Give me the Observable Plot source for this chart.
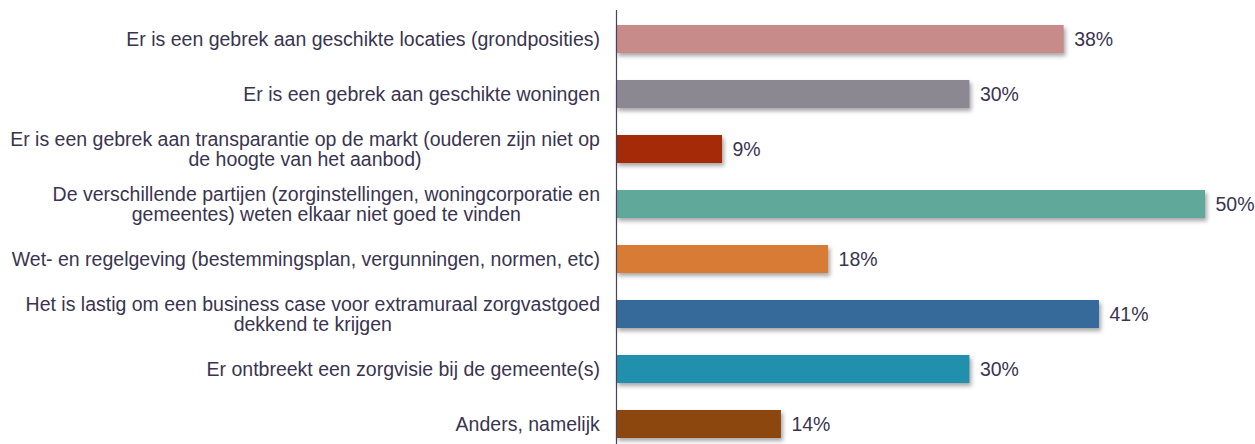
<!DOCTYPE html>
<html>
<head>
<meta charset="utf-8">
<script src="https://cdn.jsdelivr.net/npm/d3@7"></script>
<script src="https://cdn.jsdelivr.net/npm/@observablehq/plot@0.6"></script>
<style>
  html, body { margin: 0; padding: 0; background: #ffffff; }
  #chart { width: 1255px; height: 444px; }
</style>
</head>
<body>
<div id="chart"></div>
<script>
const categories = [
  "Er is een gebrek aan geschikte locaties (grondposities)",
  "Er is een gebrek aan geschikte woningen",
  "Er is een gebrek aan transparantie op de markt (ouderen zijn niet op\nde hoogte van het aanbod)",
  "De verschillende partijen (zorginstellingen, woningcorporatie en\ngemeentes) weten elkaar niet goed te vinden",
  "Wet- en regelgeving (bestemmingsplan, vergunningen, normen, etc)",
  "Het is lastig om een business case voor extramuraal zorgvastgoed\ndekkend te krijgen",
  "Er ontbreekt een zorgvisie bij de gemeente(s)",
  "Anders, namelijk"
];
const values = [38, 30, 9, 50, 18, 41, 30, 14];
const valueLabels = ["38%", "30%", "9%", "50%", "18%", "41%", "30%", "14%"];
const colors = ["#c78b8a", "#8c8892", "#a42a08", "#60a899", "#d87c35", "#356a9a", "#2190ad", "#8b470d"];

const data = categories.map((c, i) => ({cat: c, value: values[i], label: valueLabels[i]}));
const textColor = "#3a3450";

const chart = Plot.plot({
  width: 1255,
  height: 444,
  marginLeft: 616,
  marginRight: 50,
  marginTop: 24,
  marginBottom: 4,
  style: {fontFamily: "'Liberation Sans', Arial, sans-serif", background: "#ffffff"},
  x: {domain: [0, 50], axis: null},
  y: {domain: categories, axis: null, paddingInner: 0.485, paddingOuter: 0},
  color: {domain: categories, range: colors},
  marks: [
    Plot.barX(data, {
      x: "value", y: "cat", fill: "cat",
      imageFilter: "drop-shadow(2px 3px 2px rgba(0,0,0,0.35))"
    }),
    Plot.ruleX([0], {stroke: "#4a4060", strokeWidth: 1.2, insetTop: -14, insetBottom: -4}),
    Plot.text(data, {
      x: "value", y: "cat", text: "label", textAnchor: "start", dx: 10,
      fontSize: 19.5, fill: textColor
    }),
    Plot.text(data, {
      x: 0, y: "cat", text: "cat", textAnchor: "middle", lineAnchor: "middle",
      lineHeight: 1.03, fontSize: 19.5, fill: textColor
    })
  ]
});

document.getElementById("chart").appendChild(chart);

// Right-align the category label blocks (lines centred within each block) at x = 600
const groups = chart.querySelectorAll('g[aria-label="text"]');
const labelGroup = groups[groups.length - 1];
const svgRect = chart.getBoundingClientRect();
labelGroup.querySelectorAll("text").forEach(t => {
  const r = t.getBoundingClientRect();
  const right = r.right - svgRect.left;
  const delta = 600 - right;
  const tr = t.getAttribute("transform") || "";
  t.setAttribute("transform", `translate(${delta},0) ${tr}`);
});
</script>
</body>
</html>
